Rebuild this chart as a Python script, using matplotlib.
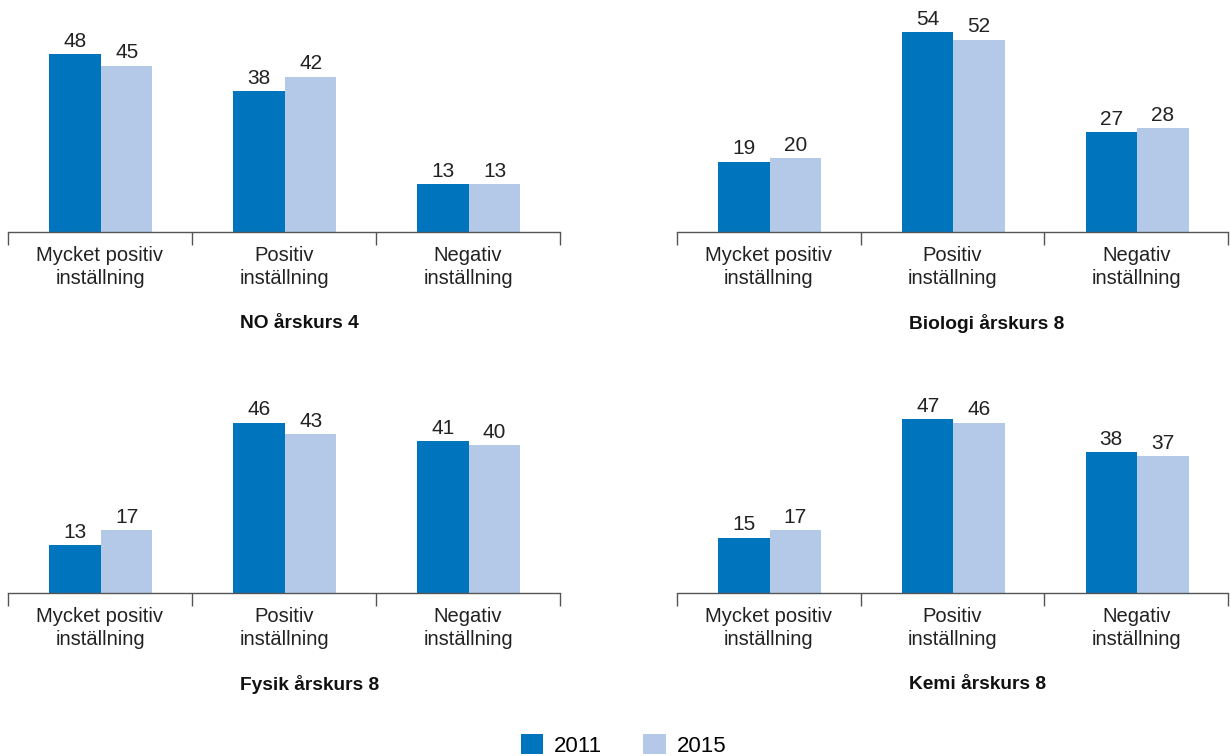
import matplotlib
matplotlib.use("Agg")
import matplotlib.pyplot as plt
from matplotlib.patches import Patch
import numpy as np

plt.rcParams['font.family'] = ['Liberation Sans', 'DejaVu Sans']

categories = ["Mycket positiv\ninställning", "Positiv\ninställning", "Negativ\ninställning"]
years = ["2011", "2015"]
titles = ["NO årskurs 4", "Biologi årskurs 8", "Fysik årskurs 8", "Kemi årskurs 8"]
no4_2011 = [48, 38, 13]
no4_2015 = [45, 42, 13]
bio8_2011 = [19, 54, 27]
bio8_2015 = [20, 52, 28]
fys8_2011 = [13, 46, 41]
fys8_2015 = [17, 43, 40]
kemi8_2011 = [15, 47, 38]
kemi8_2015 = [17, 46, 37]

series = [(no4_2011, no4_2015), (bio8_2011, bio8_2015),
          (fys8_2011, fys8_2015), (kemi8_2011, kemi8_2015)]

c2011 = "#0075BE"
c2015 = "#B4C9E8"
W, H = 1230, 756
fig = plt.figure(figsize=(W / 100, H / 100), dpi=100)

# axes rectangles in pixels: (left, right, baseline_y)
rects = [(8, 560, 232), (677, 1228, 232), (8, 560, 593), (677, 1228, 593)]
ymax = 60
pxu = 3.7

for (l, r, base), title, (s1, s2) in zip(rects, titles, series):
    h = ymax * pxu
    ax = fig.add_axes([l / W, (H - base) / H, (r - l) / W, h / H])
    x = np.arange(len(categories)) + 0.5
    bw = 0.28
    b1 = ax.bar(x - bw / 2 + 0.005, s1, bw, color=c2011)
    b2 = ax.bar(x + bw / 2 + 0.005, s2, bw, color=c2015)
    for bars, vals in ((b1, s1), (b2, s2)):
        for b, v in zip(bars, vals):
            ax.text(b.get_x() + b.get_width() / 2, v + 0.9, str(v),
                    ha='center', va='bottom', fontsize=15, color='#222222')
    ax.set_xlim(0, 3)
    ax.set_ylim(0, ymax)
    for sp in ['top', 'right', 'left']:
        ax.spines[sp].set_visible(False)
    ax.spines['bottom'].set_color('#555555')
    ax.spines['bottom'].set_linewidth(1.0)
    ax.set_yticks([])
    ax.set_xticks([0, 1, 2, 3])
    ax.set_xticklabels([])
    ax.tick_params(axis='x', which='major', length=9, width=1.0, color='#555555')
    ax.set_xticks(x, minor=True)
    ax.set_xticklabels(categories, minor=True, fontsize=14.5, color='#222222',
                       linespacing=1.3)
    ax.tick_params(axis='x', which='minor', length=0, pad=10)
    ax.text(232 / (r - l), -0.41, title, transform=ax.transAxes, ha='left',
            va='center', fontsize=13.8, fontweight='bold', color='#111111')

handles = [Patch(facecolor=c2011, edgecolor='none'), Patch(facecolor=c2015, edgecolor='none')]
fig.legend(handles, years, loc='lower center', bbox_to_anchor=(0.507, -0.016), ncol=2,
           frameon=False, fontsize=16, handlelength=1.0, handleheight=1.0,
           handletextpad=0.5, columnspacing=1.85, borderpad=0)

fig.savefig("out.png", dpi=100)
